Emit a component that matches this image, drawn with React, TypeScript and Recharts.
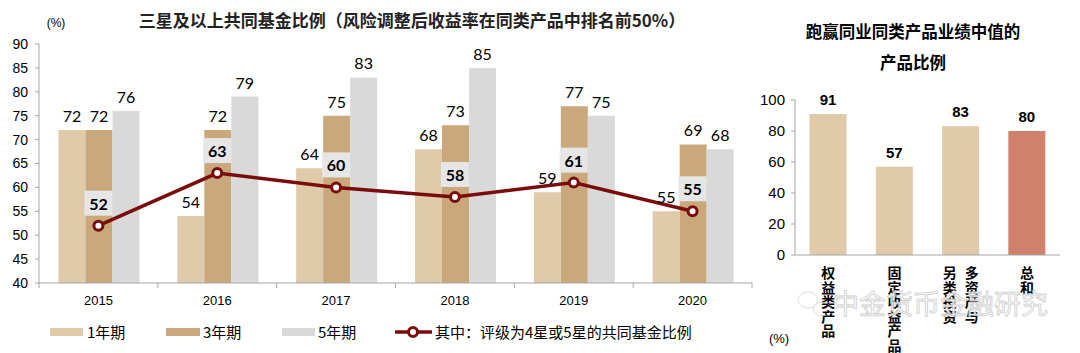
import React from 'react';
import { ComposedChart, BarChart, Bar, Line, XAxis, YAxis, LabelList, Cell } from 'recharts';

const years = ['2015', '2016', '2017', '2018', '2019', '2020'];
const oneYear = [72, 54, 64, 68, 59, 55];
const threeYear = [72, 72, 75, 73, 77, 69];
const fiveYear = [76, 79, 83, 85, 75, 68];
const fourFiveStar = [52, 63, 60, 58, 61, 55];
const leftTicks = [40, 45, 50, 55, 60, 65, 70, 75, 80, 85, 90];

const categories = ['权益类产品', '固定收益产品', '多资产与另类投资', '总和'];
const beatMedian = [91, 57, 83, 80];
const rightTicks = [0, 20, 40, 60, 80, 100];

const leftTitle = '三星及以上共同基金比例（风险调整后收益率在同类产品中排名前50%）';
const rightTitle1 = '跑赢同业同类产品业绩中值的';
const rightTitle2 = '产品比例';
const legendNames = ['1年期', '3年期', '5年期', '其中：评级为4星或5星的共同基金比例'];
const watermark = '中金货币金融研究';

const C1 = '#dfcaaa';
const C3 = '#c9a87b';
const C5 = '#d9d9d9';
const CLINE = '#7a0c0c';
const CTOTAL = '#cf816b';
const AXIS = '#a6a6a6';
const NUMFONT = 'Lato, "Noto Sans", sans-serif';
const ARIAL = '"Liberation Sans", Arial, sans-serif';
const CJK = '"Noto Sans CJK SC", "Noto Sans", sans-serif';

const leftData = years.map((y, i) => ({
  year: y,
  one: oneYear[i],
  three: threeYear[i],
  five: fiveYear[i],
  star: fourFiveStar[i],
}));

const rightData = categories.map((c, i) => ({ cat: c, v: beatMedian[i] }));

const LW = 760;
const LH = 353;
const LM = { top: 44, right: 8, left: 0, bottom: 40 };
const LYW = 39;
const BAND = (LW - LM.left - LM.right - LYW) / years.length;

const YearTick = (props: any) => {
  const { x, y, payload, index } = props;
  return (
    <g>
      <line x1={x - BAND / 2} x2={x - BAND / 2} y1={y} y2={y + 5} stroke={AXIS} />
      {index === years.length - 1 && (
        <line x1={x + BAND / 2} x2={x + BAND / 2} y1={y} y2={y + 5} stroke={AXIS} />
      )}
      <text x={x} y={y + 22} textAnchor="middle" fontSize={13} fontFamily={ARIAL} fill="#000">
        {payload.value}
      </text>
    </g>
  );
};

const StarLabel = (props: any) => {
  const { x, y, value } = props;
  return (
    <g>
      <rect x={x - 14} y={y - 35} width={28} height={25} fill="#e6e6e6" />
      <text x={x} y={y - 16} textAnchor="middle" fontSize={16} fontWeight="bold" fontFamily={NUMFONT} fill="#000">
        {value}
      </text>
    </g>
  );
};

const CatTick = (props: any) => {
  const { x, y, payload } = props;
  const s: string = payload.value;
  const cols: string[] = [];
  if (s.length > 6) {
    for (let i = 0; i < s.length; i += 4) cols.push(s.slice(i, i + 4));
  } else {
    cols.push(s);
  }
  const colGap = 22;
  const n = cols.length;
  return (
    <g>
      {cols.map((col, ci) => {
        const cx = x + ((n - 1) / 2 - ci) * colGap;
        return col.split('').map((ch, k) => (
          <text
            key={ci + '-' + k}
            x={cx}
            y={y + 23 + k * 14.5}
            textAnchor="middle"
            fontSize={14}
            fontWeight="bold"
            fontFamily={CJK}
            fill="#000"
          >
            {ch}
          </text>
        ));
      })}
    </g>
  );
};

export default function App() {
  return (
    <div style={{ position: 'absolute', left: 0, top: 0, width: 1080, height: 353, background: '#fff', overflow: 'hidden' }}>
      <div style={{ position: 'absolute', left: 0, top: 0 }}>
        <ComposedChart width={LW} height={LH} data={leftData} margin={LM} barGap={0} barCategoryGap="16.4%">
          <XAxis
            dataKey="year"
            tick={<YearTick />}
            tickLine={false}
            tickSize={0}
            tickMargin={0}
            axisLine={{ stroke: AXIS }}
            height={30}
            interval={0}
          />
          <YAxis
            domain={[40, 90]}
            ticks={leftTicks}
            width={LYW}
            interval={0}
            allowDataOverflow
            axisLine={{ stroke: AXIS }}
            tickLine={{ stroke: AXIS }}
            tickSize={4}
            tickMargin={7}
            tick={{ fontSize: 14, fontFamily: ARIAL, fill: '#000' }}
          />
          <Bar dataKey="one" fill={C1} isAnimationActive={false}>
            <LabelList dataKey="one" position="top" offset={8} fontSize={16} fontFamily={NUMFONT} fill="#000" />
          </Bar>
          <Bar dataKey="three" fill={C3} isAnimationActive={false}>
            <LabelList dataKey="three" position="top" offset={8} fontSize={16} fontFamily={NUMFONT} fill="#000" />
          </Bar>
          <Bar dataKey="five" fill={C5} isAnimationActive={false}>
            <LabelList dataKey="five" position="top" offset={8} fontSize={16} fontFamily={NUMFONT} fill="#000" />
          </Bar>
          <Line
            dataKey="star"
            stroke={CLINE}
            strokeWidth={3.5}
            dot={{ r: 4.5, fill: '#fff', stroke: CLINE, strokeWidth: 3 }}
            isAnimationActive={false}
          >
            <LabelList dataKey="star" content={<StarLabel />} />
          </Line>
        </ComposedChart>
      </div>

      <div style={{ position: 'absolute', left: 750, top: 0 }}>
        <BarChart width={330} height={353} data={rightData} margin={{ top: 100, right: 20, left: 0, bottom: 0 }} barCategoryGap="22%">
          <XAxis
            dataKey="cat"
            tick={<CatTick />}
            tickLine={false}
            tickSize={0}
            tickMargin={0}
            axisLine={{ stroke: AXIS }}
            height={98}
            interval={0}
          />
          <YAxis
            domain={[0, 100]}
            ticks={rightTicks}
            width={45}
            interval={0}
            axisLine={{ stroke: AXIS }}
            tickLine={{ stroke: AXIS }}
            tickSize={4}
            tickMargin={6}
            tick={{ fontSize: 15, fontFamily: ARIAL, fill: '#000' }}
          />
          <Bar dataKey="v" fill={C1} isAnimationActive={false}>
            {rightData.map((d, i) => (
              <Cell key={d.cat} fill={i === rightData.length - 1 ? CTOTAL : C1} />
            ))}
            <LabelList dataKey="v" position="top" offset={9} fontSize={15} fontWeight="bold" fontFamily={ARIAL} fill="#000" />
          </Bar>
        </BarChart>
      </div>

      <svg width={1080} height={353} style={{ position: 'absolute', left: 0, top: 0, pointerEvents: 'none' }}>
        <text x={56} y={27} textAnchor="middle" fontSize={12} fontFamily={ARIAL} fill="#000">(%)</text>
        <text x={412} y={27} textAnchor="middle" fontSize={17} fontWeight="bold" fontFamily={CJK} fill="#222">{leftTitle}</text>
        <text x={913} y={38} textAnchor="middle" fontSize={16.5} fontWeight="bold" fontFamily={CJK} fill="#000">{rightTitle1}</text>
        <text x={913} y={69} textAnchor="middle" fontSize={16.5} fontWeight="bold" fontFamily={CJK} fill="#000">{rightTitle2}</text>
        <text x={779} y={343} textAnchor="middle" fontSize={13} fontFamily={ARIAL} fill="#000">(%)</text>

        <text x={940} y={314} textAnchor="middle" fontSize={27} fontFamily={CJK} fill="#fff" stroke="#c9c9c9" strokeWidth={0.8} opacity={0.9}>{watermark}</text>
        <g opacity={0.6} fill="none" stroke="#c9c9c9" strokeWidth={1}>
          <ellipse cx={808} cy={300} rx={10} ry={8} />
          <ellipse cx={822} cy={309} rx={9} ry={7} />
        </g>

        <rect x={50} y={328} width={33} height={8} fill={C1} />
        <text x={87} y={338} fontSize={15} fontFamily={CJK} fill="#000">{legendNames[0]}</text>
        <rect x={166} y={328} width={34} height={8} fill={C3} />
        <text x={203} y={338} fontSize={15} fontFamily={CJK} fill="#000">{legendNames[1]}</text>
        <rect x={282} y={328} width={33} height={8} fill={C5} />
        <text x={318} y={338} fontSize={15} fontFamily={CJK} fill="#000">{legendNames[2]}</text>
        <line x1={395} x2={432} y1={332} y2={332} stroke={CLINE} strokeWidth={3.5} />
        <circle cx={413} cy={332} r={4.5} fill="#fff" stroke={CLINE} strokeWidth={3} />
        <text x={435} y={338} fontSize={15} fontFamily={CJK} fill="#000">{legendNames[3]}</text>
      </svg>
    </div>
  );
}
